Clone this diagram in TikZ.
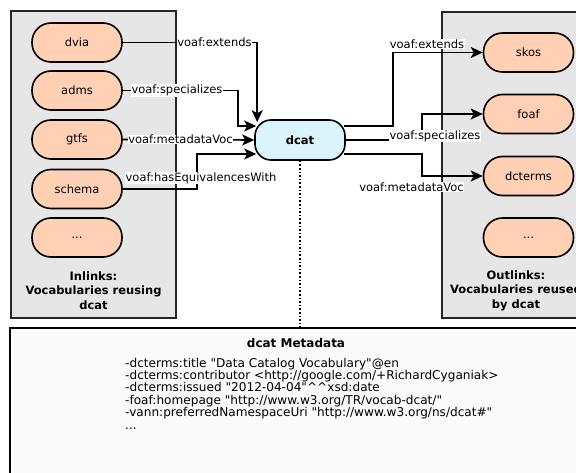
\documentclass[tikz,border=0pt]{standalone}
\usepackage{fontspec}
\setmainfont{DejaVu Sans}[Ligatures=TeXOff]
\usetikzlibrary{arrows.meta,calc}
\definecolor{pillfill}{HTML}{FFD0B4}
\definecolor{dcatfill}{HTML}{DAF4FC}
\definecolor{boxfill}{HTML}{E6E6E6}
\definecolor{metafill}{HTML}{FAFAFA}
\begin{document}
\begin{tikzpicture}[x=1pt,y=-1pt,
  every node/.style={font=\fontsize{11.5}{13.8}\selectfont},
  groupbox/.style={draw=black!85,line width=1.3pt,fill=boxfill},
  pill/.style={draw=black,line width=1.6pt,fill=pillfill,rounded corners=19pt,minimum width=90pt,minimum height=39pt,inner sep=0pt},
  hub/.style={draw=black,line width=1.6pt,fill=dcatfill,rounded corners=16pt,minimum width=90pt,minimum height=40pt,inner sep=0pt,font=\fontsize{11.5}{13.8}\selectfont\bfseries},
  link/.style={line width=1.6pt,-{Stealth[length=12pt,width=11pt,inset=3pt]}},
  lbl/.style={fill=white,inner sep=0.5pt},
  grouplbl/.style={align=center,font=\fontsize{11.5}{14.5}\selectfont\bfseries}
]
\useasboundingbox (0,0) rectangle (576,473);
\clip (0,0) rectangle (576,473);
\fill[white] (0,0) rectangle (576,473);

% group boxes
\node[groupbox,minimum width=165pt,minimum height=307pt,inner sep=0pt] (inbox) at (93.5,164.5) {};
\node[groupbox,minimum width=165pt,minimum height=306pt,inner sep=0pt] (outbox) at (524.5,165) {};
\node[draw=black,line width=1.6pt,fill=metafill,minimum width=580pt,minimum height=150pt,inner sep=0pt] (metabox) at (300,403) {};

% left nodes
\node[pill] (dvia) at (77,42.5) {dvia};
\node[pill] (adms) at (77,90.5) {adms};
\node[pill] (gtfs) at (77,139.5) {gtfs};
\node[pill] (schema) at (77,189) {schema};
\node[pill] (inmore) at (77,237.5) {...};
\node[grouplbl] (inlbl) at (93.5,290.5) {Inlinks:\\Vocabularies reusing\\dcat};

% right nodes
\node[pill] (skos) at (528.5,52.5) {skos};
\node[pill] (foaf) at (528.5,114) {foaf};
\node[pill] (dcterms) at (528.5,176) {dcterms};
\node[pill] (outmore) at (528.5,237.5) {...};
\node[grouplbl] (outlbl) at (516,290.5) {Outlinks:\\Vocabularies reused\\by dcat};

% hub
\node[hub] (dcat) at (300,140) {dcat};

% metadata
\node[font=\fontsize{12}{14}\selectfont\bfseries] (metatitle) at (296,343) {dcat Metadata};
\node[anchor=base west,align=left,inner sep=0pt,font=\fontsize{12.1}{12.4}\selectfont] (metatext) at (125,429) {-dcterms:title "Data Catalog Vocabulary"@en\\
-dcterms:contributor <http://google.com/+RichardCyganiak>\\
-dcterms:issued "2012-04-04"\textasciicircum\textasciicircum xsd:date\\
-foaf:homepage "http://www.w3.org/TR/vocab-dcat/"\\
-vann:preferredNamespaceUri "http://www.w3.org/ns/dcat\#"\\
...};

% dotted link to metadata
\draw[line width=1.6pt,dotted] (dcat.south) -- (dcat.south |- metabox.north);

% inlinks
\coordinate (inA) at ($(dcat.north west)+(3,3)$);
\draw[link] (dvia.east) -| (inA);
\node[lbl] at (214.5,42.5) {voaf:extends};

\coordinate (inB) at ($(dcat.west)+(2,-14)$);
\draw[link] (adms.east) -- (238,90.5) |- (inB);
\node[lbl] at (177,90.5) {voaf:specializes};

\draw[link] (gtfs.east) -- (dcat.west);
\node[lbl] at (180.5,139.5) {voaf:metadataVoc};

\coordinate (inD) at ($(dcat.west)+(2,14)$);
\draw[link] (schema.east) -- (197,189) |- (inD);
\node[lbl] at (201,178) {voaf:hasEquivalencesWith};

% outlinks
\coordinate (outA) at ($(dcat.east)+(-2,-14)$);
\draw[link] (outA) -- (393,126) |- (skos.west);
\node[lbl] at (427,44) {voaf:extends};

\draw[link] (dcat.east) -- (422,140) |- (foaf.west);
\node[lbl] at (435,136) {voaf:specializes};

\coordinate (outC) at ($(dcat.east)+(-2,14)$);
\draw[link] (outC) -- (422,154) |- (dcterms.west);
\node[lbl] at (411.5,187) {voaf:metadataVoc};
\end{tikzpicture}
\end{document}
